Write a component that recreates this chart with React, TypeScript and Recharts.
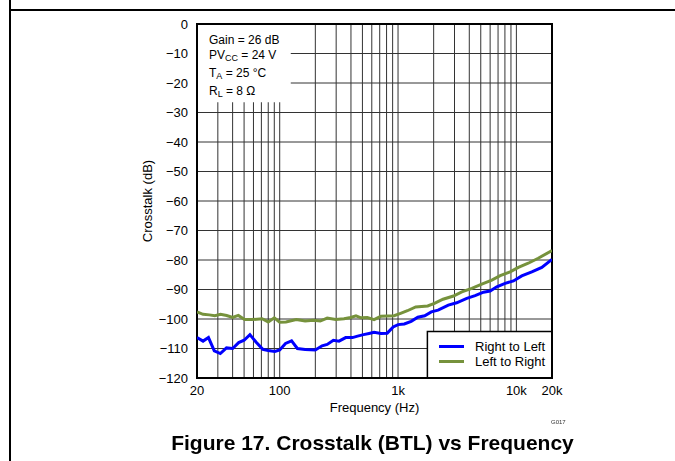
import { LineChart, Line, XAxis, YAxis, CartesianGrid, ReferenceArea } from 'recharts';

const FONT = '"Liberation Sans", Arial, sans-serif';

const FREQ_TICKS = [
  20, 30, 40, 50, 60, 70, 80, 90, 100, 200, 300, 400, 500, 600, 700, 800, 900, 1000, 2000, 3000, 4000,
  5000, 6000, 7000, 8000, 9000, 10000, 20000,
];
const FREQ_LABELS: Record<number, string> = { 20: '20', 100: '100', 1000: '1k', 10000: '10k', 20000: '20k' };
const DB_TICKS = [0, -10, -20, -30, -40, -50, -60, -70, -80, -90, -100, -110, -120];

// Right to Left (blue)
const RL_FREQ = [
  20, 22.5, 25, 28, 31.5, 35.5, 40, 45, 50, 56, 63, 72, 80, 91, 100, 112, 126, 141, 164, 200, 228, 252, 284,
  317, 361, 412, 455, 511, 569, 627, 716, 810, 910, 1000, 1130, 1290, 1470, 1680, 1910, 2180, 2660, 3130,
  3810, 4480, 5270, 6000, 6830, 8030, 9450, 11100, 13500, 16400, 20000,
];
const RL_DB = [
  -106.3, -107.5, -106.3, -110.8, -111.7, -109.8, -110.0, -108.0, -107.2, -105.3, -107.8, -110.3, -110.7,
  -111.0, -110.5, -108.3, -107.4, -110.0, -110.3, -110.5, -109.1, -108.6, -107.2, -107.5, -106.3, -106.3,
  -105.8, -105.3, -104.9, -104.5, -104.9, -104.8, -102.7, -101.9, -101.7, -100.8, -99.4, -98.9, -97.6, -97.0,
  -95.3, -94.5, -93.0, -92.1, -90.9, -90.5, -89.1, -87.9, -87.1, -85.4, -84.0, -82.5, -79.8,
];

// Left to Right (green)
const LR_FREQ = [
  20, 22.5, 25.4, 28.3, 31.6, 35.6, 40, 44.7, 50.5, 58, 71, 80, 90, 100, 113, 138, 164, 193, 220, 252, 297,
  349, 398, 441, 487, 550, 627, 716, 813, 925, 1050, 1200, 1410, 1780, 2030, 2400, 2940, 3460, 4200, 5100,
  6200, 7300, 8850, 10400, 12600, 15300, 20000,
];
const LR_DB = [
  -97.6, -98.4, -98.6, -98.9, -98.4, -98.8, -99.5, -98.8, -100.2, -100.2, -99.9, -101.0, -99.6, -101.1,
  -101.0, -100.2, -100.7, -100.4, -100.7, -99.7, -100.2, -99.9, -99.5, -98.9, -99.6, -99.5, -100.2, -99.1,
  -99.0, -98.9, -98.1, -97.2, -95.9, -95.6, -94.7, -93.3, -92.2, -90.8, -89.6, -88.2, -86.8, -85.3, -84.0,
  -82.5, -81.1, -79.4, -76.8,
];

const SERIES = [
  { name: 'Right to Left', color: '#0000FF', freq: RL_FREQ, db: RL_DB },
  { name: 'Left to Right', color: '#76923C', freq: LR_FREQ, db: LR_DB },
];

const fmtDb = (v: number) => (v < 0 ? `\u2212${Math.abs(v)}` : `${v}`);

export default function App() {
  const tick = { fill: '#000', fontSize: 13, fontFamily: FONT };

  return (
    <div style={{ position: 'fixed', left: 0, top: 0, width: 675, height: 461, background: '#fff', fontFamily: FONT }}>
      {/* page frame */}
      <div style={{ position: 'absolute', left: 9, top: 0, width: 2, height: 461, background: '#000' }} />
      <div style={{ position: 'absolute', left: 9, top: 9, width: 666, height: 2, background: '#000' }} />

      <LineChart width={675} height={461} margin={{ top: 24, right: 123, bottom: 0, left: 0 }}>
        <CartesianGrid stroke="#333" strokeWidth={1} />
        <XAxis
          dataKey="f"
          type="number"
          scale="log"
          domain={[20, 20000]}
          allowDataOverflow
          ticks={FREQ_TICKS}
          interval={0}
          tickFormatter={(v: number) => FREQ_LABELS[v] ?? ''}
          axisLine={false}
          tickLine={false}
          tickSize={0}
          tickMargin={8}
          height={83}
          tick={tick}
          label={{ value: 'Frequency (Hz)', position: 'insideTop', offset: 25, fill: '#000', fontSize: 13, fontFamily: FONT }}
        />
        <YAxis
          type="number"
          domain={[-120, 0]}
          ticks={DB_TICKS}
          interval={0}
          tickFormatter={fmtDb}
          axisLine={false}
          tickLine={false}
          tickSize={0}
          tickMargin={9}
          width={197}
          tick={tick}
          label={{
            content: (props: any) => {
              const vb = props.viewBox || { x: 0, y: 24, width: 197, height: 354 };
              const cx = vb.x + vb.width - 50;
              const cy = vb.y + vb.height / 2;
              return (
                <text x={cx} y={cy} transform={`rotate(-90 ${cx} ${cy})`} textAnchor="middle" dominantBaseline="central" fontSize={13} fontFamily={FONT} fill="#000">
                  Crosstalk (dB)
                </text>
              );
            },
          }}
        />
        {/* annotation background */}
        <ReferenceArea x1={20} x2={124} y1={-26.5} y2={0} fill="#fff" fillOpacity={1} stroke="none" />
        {SERIES.map((s) => (
          <Line
            key={s.name}
            data={s.freq.map((f, i) => ({ f, v: s.db[i] }))}
            dataKey="v"
            name={s.name}
            type="linear"
            stroke={s.color}
            strokeWidth={3}
            dot={false}
            isAnimationActive={false}
          />
        ))}
        {/* legend box */}
        <ReferenceArea x1={1770} x2={20000} y1={-120} y2={-104.2} fill="#fff" fillOpacity={1} stroke="#000" strokeWidth={1.5} />
        {/* plot border */}
        <ReferenceArea x1={20} x2={20000} y1={-120} y2={0} fill="none" stroke="#000" strokeWidth={2} />
      </LineChart>

      {/* conditions */}
      <div style={{ position: 'absolute', left: 209, top: 33, fontSize: 12, lineHeight: '15px', color: '#000' }}>
        <div>Gain = 26 dB</div>
        <div>
          PV<sub style={{ fontSize: 9, verticalAlign: '-2px' }}>CC</sub> = 24 V
        </div>
        <div>
          T<sub style={{ fontSize: 9, verticalAlign: '-2px' }}>A</sub> = 25 °C
        </div>
        <div>
          R<sub style={{ fontSize: 9, verticalAlign: '-2px' }}>L</sub> = 8 Ω
        </div>
      </div>

      {/* legend */}
      <div style={{ position: 'absolute', left: 439, top: 339, fontSize: 13, lineHeight: '15px', color: '#000' }}>
        {SERIES.map((s) => (
          <div key={s.name} style={{ display: 'flex', alignItems: 'center' }}>
            <span style={{ display: 'inline-block', width: 25, height: 3, background: s.color, marginRight: 11 }} />
            <span>{s.name}</span>
          </div>
        ))}
      </div>

      <div style={{ position: 'absolute', left: 551, top: 419, fontSize: 6, color: '#333' }}>G017</div>

      <div style={{ position: 'absolute', left: 0, width: 745, top: 431, textAlign: 'center', fontSize: 21, fontWeight: 'bold', color: '#000' }}>
        Figure 17. Crosstalk (BTL) vs Frequency
      </div>
    </div>
  );
}
